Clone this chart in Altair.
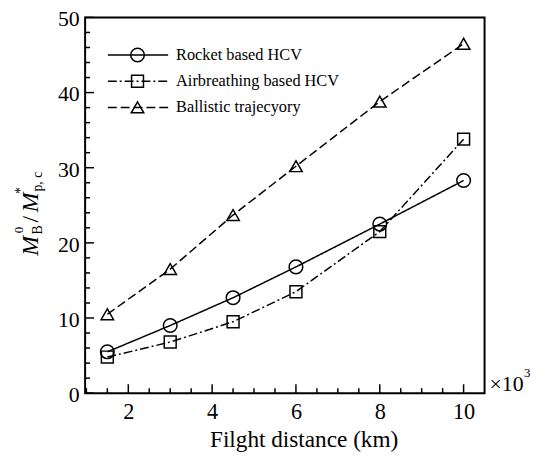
import altair as alt
import pandas as pd

# ---- data ----
distance = [1.5, 3, 4.5, 6, 8, 10]
rocket = [5.5, 9.0, 12.7, 16.8, 22.5, 28.3]
airbreathing = [4.8, 6.8, 9.5, 13.5, 21.5, 33.8]
ballistic = [10.5, 16.5, 23.7, 30.2, 38.8, 46.5]
series_names = ["Rocket based HCV", "Airbreathing based HCV", "Ballistic trajecyory"]

x_major = [2, 4, 6, 8, 10]
x_minor = [1, 1.5, 2.5, 3, 3.5, 4.5, 5, 5.5, 6.5, 7, 7.5, 8.5, 9, 9.5]
y_major = [0, 10, 20, 30, 40, 50]
y_minor = [2, 4, 6, 8, 12, 14, 16, 18, 22, 24, 26, 28, 32, 34, 36, 38, 42, 44, 46, 48]

x_title = "Filght distance (km)"

W, H = 404, 380
FONT = "Liberation Serif"

xscale = alt.Scale(domain=[0.97, 10.5], nice=False, zero=False)
yscale = alt.Scale(domain=[0, 50], nice=False, zero=False)

styles = [
    {"values": rocket, "shape": "circle", "dash": [1, 0], "size": 190},
    {"values": airbreathing, "shape": "square", "dash": [9, 3, 2, 3], "size": 145},
    {"values": ballistic, "shape": "triangle-up", "dash": [9, 4], "size": 160},
]

x_axis = alt.Axis(values=x_major, labelFont=FONT, labelFontSize=22.5, labelColor="black",
                  ticks=False, domain=False, grid=False, labelPadding=8,
                  title=x_title, titleFont=FONT, titleFontSize=23.5, titleFontWeight="normal",
                  titleColor="black", titleX=221, titleY=54, titleAlign="center",
                  titleBaseline="alphabetic")
y_axis = alt.Axis(values=y_major, labelFont=FONT, labelFontSize=22, labelColor="black",
                  ticks=False, domain=False, grid=False, labelPadding=6, labelOffset=1.5,
                  title=None)

layers = []
for i, (name, st) in enumerate(zip(series_names, styles)):
    df = pd.DataFrame({"d": distance, "v": st["values"]})
    line = alt.Chart(df).mark_line(color="black", strokeWidth=1.5, strokeDash=st["dash"]).encode(
        x=alt.X("d:Q", scale=xscale, axis=x_axis),
        y=alt.Y("v:Q", scale=yscale, axis=y_axis),
    )
    pts = alt.Chart(df).mark_point(shape=st["shape"], filled=False, color="black",
                                   size=st["size"], strokeWidth=1.5, opacity=1).encode(
        x=alt.X("d:Q", scale=xscale, axis=x_axis),
        y=alt.Y("v:Q", scale=yscale, axis=y_axis),
    )
    layers += [line, pts]

# inward ticks
def xticks(vals, length):
    return alt.Chart(pd.DataFrame({"d": vals})).mark_rule(color="black", strokeWidth=1.5).encode(
        x=alt.X("d:Q", scale=xscale, axis=x_axis),
        y=alt.value(H), y2=alt.value(H - length))

def yticks(vals, length):
    return alt.Chart(pd.DataFrame({"v": vals})).mark_rule(color="black", strokeWidth=1.5).encode(
        y=alt.Y("v:Q", scale=yscale, axis=y_axis),
        x=alt.value(0), x2=alt.value(length))

layers += [xticks(x_major, 9), xticks(x_minor, 5), yticks(y_major, 9), yticks(y_minor, 5)]

# legend
one = pd.DataFrame({"k": [0]})
leg_rows = [38, 64.5, 91]
for name, st, ry in zip(series_names, styles, leg_rows):
    layers.append(alt.Chart(one).mark_rule(color="black", strokeWidth=1.5, strokeDash=st["dash"]).encode(
        x=alt.value(23), x2=alt.value(84), y=alt.value(ry)))
    layers.append(alt.Chart(one).mark_point(shape=st["shape"], filled=False, color="black",
                                            size=st["size"], strokeWidth=1.5, opacity=1).encode(
        x=alt.value(53), y=alt.value(ry)))
    layers.append(alt.Chart(pd.DataFrame({"label": [name]})).mark_text(
        font=FONT, fontSize=16.5, align="left", baseline="middle", color="black").encode(
        text="label:N", x=alt.value(92), y=alt.value(ry)))

# y-axis title pieces: M_B^0 / M_p,c^*
pieces = [
    ("M", 24, "italic", -48, 231),
    ("0", 13, "normal", -63, 215),
    ("B", 14, "normal", -44, 215),
    ("/", 24, "normal", -48, 204),
    ("M", 24, "italic", -48, 187),
    ("*", 14, "normal", -61, 175),
    ("p, c", 14, "normal", -44, 166),
]
for txt, fs, style, px, py in pieces:
    layers.append(alt.Chart(pd.DataFrame({"s": [txt]})).mark_text(
        font=FONT, fontSize=fs, fontStyle=style, angle=270, align="center",
        baseline="alphabetic", color="black").encode(
        text="s:N", x=alt.value(px), y=alt.value(py)))

# x10^3 multiplier
layers.append(alt.Chart(pd.DataFrame({"s": ["\u00d710"]})).mark_text(
    font=FONT, fontSize=22, align="left", baseline="alphabetic", color="black").encode(
    text="s:N", x=alt.value(409), y=alt.value(378)))
layers.append(alt.Chart(pd.DataFrame({"s": ["3"]})).mark_text(
    font=FONT, fontSize=13, align="left", baseline="alphabetic", color="black").encode(
    text="s:N", x=alt.value(444), y=alt.value(364)))

chart = alt.layer(*layers).properties(
    width=W, height=H,
    autosize=alt.AutoSizeParams(type="none"),
    padding={"left": 78, "top": 7, "right": 50, "bottom": 58},
    background="white",
).configure_view(stroke="black", strokeWidth=2)

chart.save("out.html", embed_options={"renderer": "svg", "actions": False})
